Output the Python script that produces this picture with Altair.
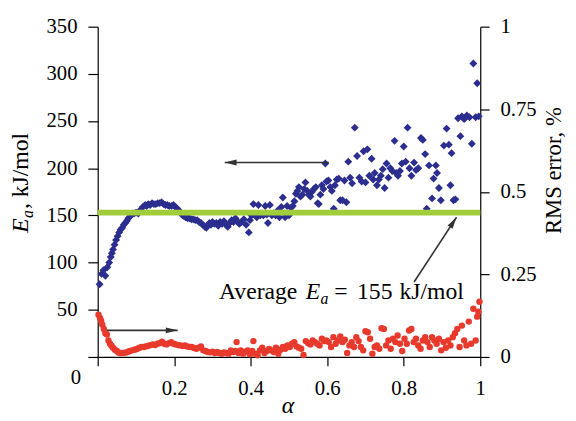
import altair as alt
import pandas as pd

# ---------------- data ----------------
blue_alpha = [0.005, 0.010, 0.015, 0.020, 0.025, 0.030, 0.034, 0.037, 0.040, 0.044, 0.048, 0.052, 0.056, 0.060,
              0.064, 0.068, 0.072, 0.076, 0.080, 0.085, 0.090, 0.095, 0.100, 0.106, 0.112, 0.118, 0.124, 0.128,
              0.132, 0.137, 0.142, 0.147, 0.152, 0.157, 0.162, 0.167, 0.172, 0.177, 0.182, 0.187, 0.193, 0.198,
              0.203, 0.208, 0.213, 0.218, 0.222, 0.226, 0.230, 0.235, 0.240, 0.245, 0.250, 0.255, 0.260, 0.265,
              0.270, 0.275, 0.280, 0.284, 0.288, 0.292, 0.296, 0.300, 0.305, 0.310, 0.315, 0.320, 0.325, 0.330,
              0.335, 0.340, 0.345, 0.350, 0.355, 0.360, 0.365, 0.370, 0.376, 0.382, 0.388, 0.395, 0.398, 0.402,
              0.407, 0.412, 0.416, 0.420, 0.425, 0.430, 0.433, 0.438, 0.442, 0.445, 0.450, 0.455, 0.460, 0.465,
              0.470, 0.475, 0.480, 0.484, 0.488, 0.490, 0.495, 0.500, 0.505, 0.510, 0.514, 0.518, 0.522, 0.526,
              0.530, 0.535, 0.540, 0.543, 0.548, 0.552, 0.556, 0.560, 0.565, 0.570, 0.575, 0.578, 0.582, 0.586,
              0.590, 0.595, 0.598, 0.603, 0.608, 0.612, 0.617, 0.620, 0.625, 0.630, 0.634, 0.640, 0.645, 0.650,
              0.655, 0.660, 0.665, 0.672, 0.678, 0.684, 0.690, 0.695, 0.700, 0.705, 0.710, 0.716, 0.720, 0.724,
              0.730, 0.735, 0.740, 0.745, 0.750, 0.755, 0.760, 0.765, 0.770, 0.776, 0.780, 0.785, 0.790, 0.795,
              0.800, 0.805, 0.810, 0.815, 0.820, 0.827, 0.832, 0.838, 0.845, 0.850, 0.856, 0.860, 0.866, 0.874,
              0.878, 0.884, 0.887, 0.892, 0.897, 0.905, 0.912, 0.918, 0.922, 0.925, 0.930, 0.935, 0.942, 0.948,
              0.952, 0.958, 0.965, 0.972, 0.978, 0.982, 0.988, 0.992, 0.996]
blue_ea = [77, 88, 92, 86, 95, 100, 106, 110, 114, 119, 124, 128, 132, 135,
           137, 140, 142, 144, 147, 149, 152, 152, 153, 152, 156, 159, 161, 160,
           162, 161, 163, 162, 162, 163, 163, 164, 162, 161, 161, 160, 160, 161,
           159, 157, 155, 152, 150, 149, 148, 147, 147, 146, 146, 145, 145, 143,
           142, 140, 138, 137, 140, 142, 140, 143, 141, 142, 139, 143, 141, 144,
           140, 138, 142, 145, 143, 147, 144, 141, 143, 146, 140, 132, 145, 150,
           162, 150, 148, 161, 150, 152, 150, 160, 151, 142, 161, 150, 152, 150,
           155, 148, 159, 169, 152, 148, 160, 150, 158, 160, 165, 173, 176, 180,
           170, 172, 178, 185, 176, 172, 170, 175, 178, 180, 163, 162, 172, 182,
           178, 205, 186, 187, 180, 176, 157, 182, 188, 189, 166, 166, 187, 164,
           207, 190, 184, 243, 213, 190, 186, 218, 185, 220, 192, 210, 188, 195,
           182, 188, 192, 199, 179, 205, 190, 200, 197, 229, 195, 192, 197, 205,
           223, 207, 243, 200, 192, 206, 198, 200, 232, 230, 215, 157, 203, 168,
           189, 203, 195, 179, 166, 224, 242, 225, 182, 216, 166, 167, 253, 234,
           255, 252, 256, 254, 226, 311, 254, 290, 255]

red_alpha = [0.002, 0.006, 0.009, 0.012, 0.016, 0.020, 0.024, 0.028, 0.032, 0.036, 0.040, 0.045, 0.050, 0.055,
             0.060, 0.066, 0.072, 0.078, 0.084, 0.090, 0.096, 0.102, 0.108, 0.114, 0.120, 0.126, 0.132, 0.138,
             0.144, 0.150, 0.156, 0.162, 0.168, 0.174, 0.180, 0.186, 0.192, 0.198, 0.204, 0.210, 0.216, 0.222,
             0.228, 0.234, 0.240, 0.246, 0.252, 0.258, 0.264, 0.270, 0.276, 0.282, 0.288, 0.294, 0.300, 0.306,
             0.312, 0.318, 0.324, 0.330, 0.336, 0.342, 0.348, 0.354, 0.360, 0.363, 0.368, 0.374, 0.380, 0.386,
             0.392, 0.398, 0.404, 0.407, 0.412, 0.418, 0.424, 0.430, 0.436, 0.442, 0.448, 0.454, 0.460, 0.466,
             0.472, 0.478, 0.484, 0.490, 0.496, 0.502, 0.508, 0.514, 0.520, 0.526, 0.532, 0.538, 0.544, 0.550,
             0.556, 0.562, 0.568, 0.574, 0.580, 0.586, 0.592, 0.598, 0.604, 0.610, 0.616, 0.622, 0.628, 0.634,
             0.640, 0.646, 0.652, 0.658, 0.664, 0.670, 0.676, 0.682, 0.688, 0.694, 0.700, 0.706, 0.712, 0.718,
             0.724, 0.730, 0.736, 0.742, 0.748, 0.754, 0.760, 0.766, 0.772, 0.778, 0.784, 0.790, 0.796, 0.802,
             0.808, 0.814, 0.820, 0.826, 0.832, 0.838, 0.844, 0.850, 0.856, 0.862, 0.868, 0.874, 0.880, 0.886,
             0.892, 0.898, 0.904, 0.910, 0.916, 0.922, 0.928, 0.934, 0.940, 0.946, 0.952, 0.958, 0.964, 0.970,
             0.976, 0.982, 0.988, 0.992, 0.995, 0.998]
red_rms = [0.128, 0.118, 0.110, 0.098, 0.085, 0.072, 0.068, 0.050, 0.040, 0.034, 0.028, 0.022, 0.018, 0.013,
           0.012, 0.012, 0.013, 0.015, 0.018, 0.020, 0.022, 0.024, 0.027, 0.030, 0.030, 0.032, 0.034, 0.036,
           0.038, 0.036, 0.040, 0.042, 0.046, 0.040, 0.038, 0.042, 0.045, 0.040, 0.038, 0.036, 0.035, 0.033,
           0.035, 0.032, 0.030, 0.030, 0.027, 0.025, 0.028, 0.032, 0.020, 0.018, 0.015, 0.014, 0.016, 0.012,
           0.015, 0.012, 0.010, 0.014, 0.012, 0.010, 0.020, 0.015, 0.018, 0.045, 0.012, 0.020, 0.010, 0.016,
           0.020, 0.008, 0.018, 0.048, 0.010, 0.005, 0.020, 0.028, 0.012, 0.018, 0.024, 0.020, 0.015, 0.028,
           0.010, 0.022, 0.030, 0.025, 0.035, 0.030, 0.040, 0.045, 0.032, 0.028, 0.025, 0.006, 0.048, 0.042,
           0.038, 0.050, 0.045, 0.040, 0.035, 0.055, 0.048, 0.050, 0.045, 0.030, 0.060, 0.040, 0.050, 0.062,
           0.045, 0.052, 0.012, 0.035, 0.045, 0.030, 0.060, 0.048, 0.030, 0.020, 0.078, 0.075, 0.055, 0.010,
           0.030, 0.035, 0.025, 0.087, 0.085, 0.035, 0.050, 0.025, 0.055, 0.045, 0.065, 0.040, 0.018, 0.055,
           0.040, 0.080, 0.085, 0.045, 0.055, 0.035, 0.025, 0.050, 0.060, 0.045, 0.030, 0.060, 0.050, 0.040,
           0.055, 0.020, 0.045, 0.028, 0.050, 0.035, 0.060, 0.072, 0.085, 0.030, 0.095, 0.050, 0.035, 0.107,
           0.040, 0.146, 0.050, 0.122, 0.137, 0.167]

average_ea = 153          # level of the green "average" line as drawn
x_ticks = [0, 0.2, 0.4, 0.6, 0.8, 1]
ea_ticks = [0, 50, 100, 150, 200, 250, 300, 350]
rms_ticks = [0, 0.25, 0.5, 0.75, 1]

# arrows: tail -> tip (alpha, Ea units)
arrow_tail_x = [0.604, 0.010, 0.827]
arrow_tail_y = [206, 28.2, 79.4]
arrow_tip_x = [0.332, 0.209, 0.938]
arrow_tip_y = [206, 28.2, 148]
arrow_angle = [270, 90, 33]

FONT = "Liberation Serif, Times New Roman, serif"
BLUE = "#2b2e8e"
RED = "#e83a2c"
GREEN = "#a2cd3a"
INK = "#333333"

xscale = alt.Scale(domain=[0, 1], nice=False, zero=False)
eascale = alt.Scale(domain=[0, 350], nice=False)
rmsscale = alt.Scale(domain=[0, 1], nice=False)

xaxis = alt.Axis(values=x_ticks,
                 labelExpr="datum.value == 0 ? '' : format(datum.value, '.1~f')",
                 title=None, orient="bottom", labelFlush=False, labelPadding=12, tickSize=9,
                 labelOverlap=False)
eaaxis = alt.Axis(values=ea_ticks, labelExpr="datum.value == 0 ? '' : format(datum.value, 'd')",
                  title=None, orient="left", tickSize=10, labelPadding=11, labelOverlap=False)
rmsaxis = alt.Axis(values=rms_ticks, labelExpr="format(datum.value, '.2~f')", title=None,
                   orient="right", tickSize=9, labelPadding=11, labelOverlap=False)


def X(f):
    return alt.X(f, type="quantitative", scale=xscale, axis=xaxis)


def YL(f):
    return alt.Y(f, type="quantitative", scale=eascale, axis=eaaxis)


blue_df = pd.DataFrame({"alpha": blue_alpha, "ea": blue_ea})
red_df = pd.DataFrame({"alpha": red_alpha, "rms": red_rms})
green_df = pd.DataFrame({"x0": [0], "x1": [1], "ea": [average_ea]})
arrow_df = pd.DataFrame({"tx": arrow_tail_x, "ty": arrow_tail_y, "hx": arrow_tip_x,
                         "hy": arrow_tip_y, "ang": arrow_angle})

blue = alt.Chart(blue_df).mark_point(shape="diamond", filled=True, size=64, color=BLUE,
                                     opacity=1).encode(x=X("alpha"), y=YL("ea"))
green = alt.Chart(green_df).mark_rule(color=GREEN, strokeWidth=6).encode(
    x=X("x0"), x2="x1", y=YL("ea"))
arrow_lines = alt.Chart(arrow_df).mark_rule(color=INK, strokeWidth=1.6).encode(
    x=X("tx"), x2="hx", y=YL("ty"), y2="hy")
arrow_heads = alt.Chart(arrow_df).mark_point(
    shape="M0,0L-0.5,2L0.5,2Z", filled=True, size=144, color=INK, opacity=1
).encode(x=X("hx"), y=YL("hy"), angle=alt.Angle("ang:Q", scale=None))

left_layer = alt.layer(blue, green, arrow_lines, arrow_heads)

red = alt.Chart(red_df).mark_circle(size=42, color=RED, opacity=1).encode(
    x=X("alpha"), y=alt.Y("rms", type="quantitative", scale=rmsscale, axis=rmsaxis))


def txt(s, x, y, size=23, style="normal", angle=0, align="left", baseline="alphabetic"):
    return alt.Chart(pd.DataFrame({"t": [s]})).mark_text(
        font=FONT, fontSize=size, fontStyle=style, angle=angle, align=align,
        baseline=baseline, color="black"
    ).encode(text="t:N", x=alt.value(x), y=alt.value(y))


texts = [
    # left axis title: E_a, kJ/mol
    txt("E", -71, 209, 24, "italic", 270),
    txt("a", -66, 194, 16, "italic", 270),
    txt(", kJ/mol", -71, 185, 24, "normal", 270),
    # right axis title
    txt("RMS error, %", 470, 146, 23, "normal", 270, "center"),
    # x axis title
    txt("α", 193, 392, 24, "italic", 0, "center"),
    # shared origin label
    txt("0", -22, 356, 21, "normal", 0, "center", "middle"),
    # annotation: Average E_a = 155 kJ/mol
    txt("Average", 123, 276, 24),
    txt("E", 211, 276, 24, "italic"),
    txt("a", 226, 281, 16, "italic"),
    txt("=", 240, 276, 24),
    txt("155", 263, 276, 24),
    txt("kJ/mol", 306, 276, 24),
]

chart = alt.layer(left_layer, red, *texts).resolve_scale(y="independent").properties(
    width=388, height=335,
    autosize=alt.AutoSizeParams(type="none"),
    padding={"left": 91, "top": 16, "right": 89, "bottom": 62},
    background="white",
).configure_view(stroke=None).configure_axis(
    labelFont=FONT, labelFontSize=21, labelColor="black", domainColor="black",
    tickColor="black", grid=False, domainWidth=1.2, tickWidth=1.2
)

chart.save("out.html", embed_options={"renderer": "svg", "actions": False})
